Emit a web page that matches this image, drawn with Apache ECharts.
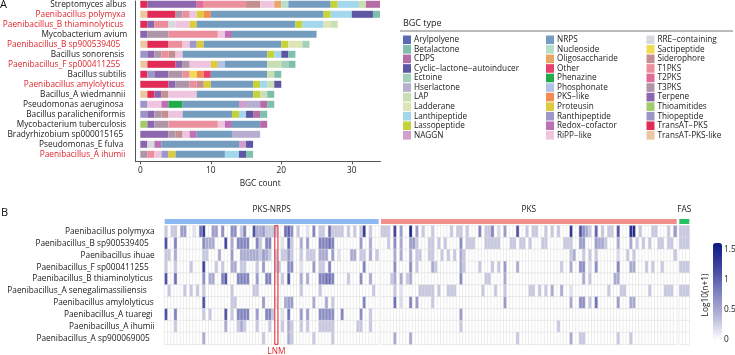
<!DOCTYPE html>
<html><head><meta charset="utf-8">
<style>html,body{margin:0;padding:0;background:#fff}#c{width:735px;height:355px}</style>
<script src="https://cdn.jsdelivr.net/npm/echarts@6/dist/echarts.min.js"></script></head>
<body><div id="c"></div>
<script>
// ---------- Panel A data ----------
const bgcTypes = ['TransAT-PKS-like','TransAT−PKS','Thiopeptide','Thioamitides','Terpene','T3PKS','T2PKS','T1PKS','Siderophore','Sactipeptide','RRE−containing','RiPP−like','Redox−cofactor','Ranthipeptide','Proteusin','PKS−like','Phosphonate','Phenazine','Other','Oligosaccharide','Nucleoside','NRPS','NAGGN','Lassopeptide','Lanthipeptide','Ladderane','LAP','Hserlactone','Ectoine','Cyclic−lactone−autoinducer','CDPS','Betalactone','Arylpolyene'];
const bgcColors = ['#ecc69e','#e12b56','#9a96c8','#a2cc6c','#8d67ad','#ae96a8','#df6d97','#ec8f9c','#c48f90','#f0dc52','#d8d9de','#eec4de','#bb71b3','#9d98cb','#dccb3c','#f28d50','#b3c1e6','#22ab4b','#e8416b','#e8a769','#b7dec8','#739cbf','#cf9fcf','#c4d339','#a3d8ec','#dde5b6','#c9dfb3','#b7aed0','#a3d0b9','#5d57a3','#b56da6','#7fbfae','#5b6bb0'];
const legendCol1 = ['Arylpolyene','Betalactone','CDPS','Cyclic−lactone−autoinducer','Ectoine','Hserlactone','LAP','Ladderane','Lanthipeptide','Lassopeptide','NAGGN'];
const legendCol2 = ['NRPS','Nucleoside','Oligosaccharide','Other','Phenazine','Phosphonate','PKS−like','Proteusin','Ranthipeptide','Redox−cofactor','RiPP−like'];
const legendCol3 = ['RRE−containing','Sactipeptide','Siderophore','T1PKS','T2PKS','T3PKS','Terpene','Thioamitides','Thiopeptide','TransAT−PKS','TransAT-PKS-like'];
const species = ['Streptomyces albus','Paenibacillus polymyxa','Paenibacillus_B thiaminolyticus','Mycobacterium avium','Paenibacillus_B sp900539405','Bacillus sonorensis','Paenibacillus_F sp000411255','Bacillus subtilis','Paenibacillus amylolyticus','Bacillus_A wiedmannii','Pseudomonas aeruginosa','Bacillus paralicheniformis','Mycobacterium tuberculosis','Bradyrhizobium sp000015165','Pseudomonas_E fulva','Paenibacillus_A ihumii'];
const redSpecies = ['Paenibacillus polymyxa','Paenibacillus_B thiaminolyticus','Paenibacillus_B sp900539405','Paenibacillus_F sp000411255','Paenibacillus amylolyticus','Paenibacillus_A ihumii'];
const labelRightPad = [1,2,4,0,7,3,7,1,3,2,4,2,1,4,4,2];
const sAlbus = [['TransAT−PKS',1],['Terpene',7],['T2PKS',1],['T1PKS',6],['Siderophore',2],['RiPP−like',2],['Oligosaccharide',1],['Nucleoside',1],['NRPS',6],['Lassopeptide',1],['Lanthipeptide',3],['LAP',1],['CDPS',2]];
const pPolymyxa = [['TransAT-PKS-like',1],['TransAT−PKS',4],['T3PKS',1],['T1PKS',1],['RiPP−like',1],['Proteusin',1],['PKS−like',1],['NRPS',16],['Lassopeptide',1],['Lanthipeptide',3],['Cyclic−lactone−autoinducer',3],['Betalactone',1]];
const pThiaminolyticus = [['TransAT−PKS',1],['Terpene',1],['T1PKS',2],['RRE−containing',1],['RiPP−like',2],['Proteusin',1],['NRPS',14],['Lassopeptide',1],['Lanthipeptide',3],['Ladderane',1],['LAP',1]];
const mAvium = [['Terpene',1],['T3PKS',3],['T1PKS',7],['RiPP−like',1],['Redox−cofactor',1],['NRPS',12]];
const pSp900539405 = [['TransAT-PKS-like',1],['TransAT−PKS',3],['T1PKS',2],['RiPP−like',1],['Ranthipeptide',1],['Proteusin',1],['NRPS',11],['Lassopeptide',1],['Ladderane',2],['Ectoine',1]];
const bSonorensis = [['Thiopeptide',1],['Terpene',1],['T3PKS',1],['T1PKS',1],['Siderophore',1],['RiPP−like',1],['NRPS',12],['Lassopeptide',1],['Lanthipeptide',1],['Cyclic−lactone−autoinducer',1],['Betalactone',1]];
const pSp000411255 = [['TransAT-PKS-like',1],['TransAT−PKS',4],['Terpene',1],['T3PKS',1],['RiPP−like',3],['Proteusin',1],['Phosphonate',1],['NRPS',6],['LAP',2],['Ectoine',1],['Betalactone',1]];
const bSubtilis = [['TransAT−PKS',1],['Thiopeptide',1],['Terpene',2],['T3PKS',2],['T1PKS',1],['Sactipeptide',1],['PKS−like',1],['Other',1],['NRPS',8],['LAP',1],['Betalactone',1]];
const pAmylolyticus = [['TransAT−PKS',4],['Terpene',1],['T3PKS',2],['T1PKS',1],['Siderophore',1],['Proteusin',1],['NRPS',6],['Lassopeptide',1],['Lanthipeptide',1],['LAP',1],['Cyclic−lactone−autoinducer',1]];
const bWiedmannii = [['TransAT-PKS-like',1],['TransAT−PKS',1],['Terpene',1],['Siderophore',1],['RiPP−like',4],['NRPS',8],['Lassopeptide',1],['LAP',1],['Betalactone',1]];
const pAeruginosa = [['Thiopeptide',1],['RiPP−like',2],['Redox−cofactor',1],['Phenazine',2],['NRPS',8],['NAGGN',1],['Hserlactone',2],['CDPS',1],['Betalactone',1]];
const bParalicheniformis = [['Thiopeptide',1],['Terpene',1],['T3PKS',1],['Siderophore',1],['RiPP−like',2],['NRPS',7],['Lassopeptide',1],['Lanthipeptide',1],['Cyclic−lactone−autoinducer',1],['CDPS',1],['Betalactone',1]];
const mTuberculosis = [['Thioamitides',1],['Terpene',1],['T3PKS',2],['T1PKS',7],['RiPP−like',1],['Redox−cofactor',1],['NRPS',4],['CDPS',1]];
const bradySp = [['Terpene',4],['T3PKS',1],['Siderophore',1],['RiPP−like',1],['Redox−cofactor',1],['NRPS',5],['Hserlactone',4]];
const pFulva = [['Terpene',1],['RRE−containing',1],['Redox−cofactor',1],['NRPS',11],['NAGGN',1],['Cyclic−lactone−autoinducer',1]];
const pIhumii = [['T3PKS',1],['T1PKS',1],['RiPP−like',1],['Ranthipeptide',1],['Proteusin',1],['NRPS',7],['Lanthipeptide',2],['Cyclic−lactone−autoinducer',1],['Betalactone',1]];
const speciesCounts = [sAlbus,pPolymyxa,pThiaminolyticus,mAvium,pSp900539405,bSonorensis,pSp000411255,bSubtilis,pAmylolyticus,bWiedmannii,pAeruginosa,bParalicheniformis,mTuberculosis,bradySp,pFulva,pIhumii];

// ---------- Panel B data: sparse [column, log10(n+1)] per genome ----------
const genomes = ['Paenibacillus polymyxa','Paenibacillus_B sp900539405','Paenibacillus ihuae','Paenibacillus_F sp000411255','Paenibacillus_B thiaminolyticus','Paenibacillus_A senegalimassiliensis','Paenibacillus amylolyticus','Paenibacillus_A tuaregi','Paenibacillus_A ihumii','Paenibacillus_A sp900069005'];
const genomePad = [0,6,0,6,2,8,1,2,0,5];
const nrpsColumns = 68, pksColumns = 94, fasColumns = 3;
const lnmColumn = 35;
const cellsPksNrps = [
 [[0,.3],[2,.3],[3,.3],[5,.6],[6,.6],[9,.15],[11,.9],[12,1.3],[15,.6],[16,.6],[18,.7],[21,.7],[22,.7],[24,.3],[25,.78],[28,1.1],[29,.48],[30,.48],[31,.6],[32,.3],[33,.3],[34,.3],[35,.3],[38,.9],[39,1],[40,.7],[42,.3],[45,.15],[47,.78],[49,.3],[50,.3],[52,.9],[53,.3],[54,.3],[55,.3],[56,.3],[58,.3],[60,.3],[62,.3],[63,1.3],[65,.3]],
 [[0,1.1],[3,.78],[12,.7],[13,.48],[14,.48],[15,.48],[19,1.2],[21,.48],[23,.78],[24,.78],[25,.78],[26,.78],[29,.78],[30,.3],[32,.78],[33,.78],[37,.15],[39,1],[40,.3],[43,.48],[45,.6],[49,.78],[50,.78],[51,.78],[52,.9],[53,.78],[62,.6],[65,.48]],
 [[0,.3],[1,.3],[3,.48],[12,.3],[13,.3],[17,.48],[21,.6],[24,.48],[25,.48],[26,.48],[27,.48],[28,.48],[29,.48],[30,.3],[31,.6],[32,.48],[33,.3],[35,.3],[37,.3],[38,.3],[39,.6],[40,.3],[43,.3],[45,.3],[46,.3],[47,.3],[49,.48],[50,.48],[51,.48],[53,.6],[55,.15],[59,.48],[60,.48],[62,.3],[63,.3],[65,.48],[67,.3]],
 [[0,.3],[3,.3],[8,.3],[12,1.2],[16,.3],[18,.3],[21,.48],[22,.48],[24,.3],[25,.3],[29,.3],[31,.6],[35,.3],[36,.3],[39,.7],[40,.7],[43,.15],[47,.6],[49,.3],[50,.3],[52,.78],[63,.78]],
 [[0,1.1],[3,.9],[12,.7],[14,.48],[15,.48],[18,.78],[19,1.1],[23,.78],[24,.78],[25,.78],[26,.78],[29,.6],[32,.78],[33,.78],[35,.15],[37,.3],[39,1.1],[43,.48],[45,.48],[49,.78],[50,.78],[51,.9],[52,.9],[53,.78],[58,.3],[62,.7],[65,.48]],
 [[1,.3],[6,.3],[8,.3],[10,.3],[12,.3],[21,.3],[28,.3],[29,.3],[43,.3],[49,.3],[66,.3]],
 [[12,1.1],[21,.3],[22,.3],[31,.6],[35,.15],[38,.48],[39,.6],[40,.6],[47,.48],[51,.48],[53,.3],[63,.78]],
 [[0,1.1],[3,.78],[12,.3],[14,.3],[19,1.1],[21,.3],[23,.78],[24,.78],[25,.78],[26,.78],[29,.6],[32,.78],[33,.78],[34,.3],[37,.15],[39,.9],[43,.6],[45,.6],[49,.7],[50,.7],[51,.7],[52,.7],[53,.7],[56,.78],[62,.7],[65,.3]],
 [[3,.3],[19,.48],[23,.3],[24,.48],[25,.3],[29,.3],[33,.3],[37,.3],[39,.48],[40,.3],[43,.3],[45,.3],[49,.3],[50,.3],[51,.3],[52,.3],[53,.3],[61,.3],[62,.3],[65,.3]],
 [[12,.48],[31,.3],[39,.48],[40,.3],[47,.3],[53,.3]]
];
const cellsPks = [
 [[0,.3],[1,.3],[2,.3],[4,1.2],[6,.6],[9,1.5],[11,.6],[13,.3],[16,.3],[22,.3],[24,.3],[25,.3],[27,.3],[31,.78],[33,.3],[34,.3],[35,.78],[37,.2],[39,.6],[43,1.1],[46,.3],[48,.3],[49,.3],[52,.3],[54,.3],[56,.3],[60,1.3],[63,1.1],[64,.7],[65,.48],[66,.3],[68,1],[70,.3],[72,.3],[73,.3],[75,1.1],[79,1.4],[80,1.4],[82,.3],[86,.3],[87,.3],[91,.3],[93,.6]],
 [[2,.3],[4,.7],[6,.48],[9,.6],[10,.6],[11,.3],[15,.3],[16,.3],[18,.3],[20,.3],[25,.7],[27,.3],[28,.3],[29,.3],[33,.3],[34,.3],[35,.3],[36,.3],[37,.3],[41,.3],[42,.3],[44,.3],[45,.3],[47,.3],[51,.3],[52,.3],[58,.3],[59,.3],[60,.3],[63,.6],[64,.6],[68,.6],[69,.48],[70,.48],[71,.3],[75,.48],[79,.48],[81,.3],[83,.3],[85,.3],[88,.3],[89,.3],[91,.3],[92,.3]],
 [[4,.48],[6,.48],[9,.48],[11,.3],[12,.3],[15,.3],[16,.3],[19,.3],[21,.3],[23,.3],[25,.48],[26,.3],[60,.3],[61,.48],[64,.3],[66,.3],[68,.3],[75,.2],[78,.3],[80,.3],[93,.3]],
 [[4,.7],[9,.7],[11,.3],[16,.48],[17,.3],[25,.48],[26,.3],[31,.3],[35,.3],[37,.3],[39,.6],[43,.48],[57,.3],[60,.48],[63,.7],[64,.7],[66,.2],[68,.7],[75,.78],[79,.48],[80,.48],[84,.3],[86,.3],[89,.3]],
 [[3,.3],[4,.48],[6,.48],[8,.3],[9,.48],[25,.7],[33,.3],[34,.3],[39,.48],[64,.48],[66,.3],[74,.48],[75,.48]],
 [[4,.3],[6,.15],[12,.3],[13,.3],[14,.3],[15,.3],[16,.3],[18,.3],[21,.3],[22,.3],[23,.3],[32,.3],[36,.3],[39,.3],[47,.3],[48,.3],[50,.3],[52,.3],[54,.48],[57,.48],[60,.15],[72,.3],[76,.3],[77,.3],[85,.3],[90,.3],[91,.3],[92,.3]],
 [[4,.9],[6,.2],[9,.78],[11,.6],[16,.3],[39,.6],[60,.48],[63,.7],[64,.7],[66,.3],[68,.9],[75,.6],[79,.48],[80,.48]],
 [[25,.6]],
 [[25,.3],[56,.3]],
 [[4,.48],[9,.48],[43,.3],[60,.48],[63,.3],[64,.3],[75,.3],[79,.3]]
];
const cellsFas = [
 [[0,.3],[1,.3],[2,.3]],
 [[0,.3],[1,.3],[2,.3]],
 [],
 [[0,.3],[1,.3],[2,.3]],
 [],
 [[0,.3],[1,.3],[2,.3]],
 [],[],[],[]
];
const groupNames = ['PKS-NRPS','PKS','FAS'];
const groupColors = ['#8db8f2','#f08f8c','#25c060'];
const colorStops = ['#ffffff','#b4b5d8','#7d80bf','#3f44a0','#0c1a82'];
const colorbarTicks = [0,0.5,1,1.5];

// ---------- Build ----------
const FONT = '"Open Sans"';
const TXT = '#1a1a1a';
const colW = 3.146;
const heatTop = 225.7, heatH = 118.6;
const g1 = 164.7, g2 = 381, g3 = 679.3;
const NB = {outerBoundsMode:'none'};

const barSeries = bgcTypes.map((t,i)=>({
  type:'bar', name:t, stack:'a', xAxisIndex:0, yAxisIndex:0, barWidth:7,
  itemStyle:{color:bgcColors[i]}, silent:true,
  data:speciesCounts.map(sc=>{const f=sc.find(e=>e[0]===t);return f?f[1]:0;})
}));
function cellsToData(cells,nCols){
  const out=[];
  cells.forEach((row,r)=>{const m={};row.forEach(c=>m[c[0]]=c[1]);
    for(let c=0;c<nCols;c++)out.push([c,r,m[c]||0]);});
  return out;
}
const hmStyle = {borderColor:'#dcdcdc',borderWidth:0.5};
const hm = (ax,cells,n)=>({type:'heatmap',xAxisIndex:ax,yAxisIndex:ax,data:cellsToData(cells,n),itemStyle:hmStyle,silent:true,progressive:0,emphasis:{disabled:true}});
const idx = n=>Array.from({length:n},(_,i)=>i);
const heatX = (gi,n,name)=>({gridIndex:gi,type:'category',position:'top',data:idx(n),offset:4,
  axisTick:{show:false},axisLabel:{show:false},splitLine:{show:false},
  axisLine:{show:true,lineStyle:{color:groupColors[gi-2],width:5,cap:'butt'}},
  name:name,nameLocation:'middle',nameGap:8.5,nameTextStyle:{fontFamily:FONT,fontSize:8.3,color:TXT}});
const heatY = (gi,show)=>({gridIndex:gi,type:'category',inverse:true,
  data:genomes.map((g,i)=>({value:g,textStyle:{padding:[0,genomePad[i],0,0]}})),
  axisLine:{show:false},axisTick:{show:false},splitLine:{show:false},
  axisLabel:{show:show,interval:0,margin:10,fontFamily:FONT,fontSize:8.3,color:TXT}});
const legend = (names,left)=>({show:true,data:names,orient:'vertical',left:left,top:35.5,itemWidth:8,itemHeight:8.6,itemGap:0.95,icon:'rect',selectedMode:false,padding:0,
  textStyle:{fontFamily:FONT,fontSize:8.2,color:TXT,lineHeight:8.6,padding:[0,0,0,-2]}});

const option = {
  animation:false,
  backgroundColor:'#fff',
  textStyle:{fontFamily:FONT},
  title:[
    {text:'A',left:0,top:-1,padding:0,textStyle:{fontFamily:FONT,fontSize:11,fontWeight:'normal',color:'#111'}},
    {text:'B',left:1,top:207,padding:0,textStyle:{fontFamily:FONT,fontSize:11,fontWeight:'normal',color:'#111'}},
    {text:'BGC type',left:403,top:18.5,padding:0,textStyle:{fontFamily:FONT,fontSize:9,fontWeight:'normal',color:TXT}}
  ],
  legend:[legend(legendCol1,403),legend(legendCol2,546),legend(legendCol3,646.5)],
  grid:[
    {left:140.3,top:-0.7,width:239.7,height:160,...NB},
    {left:135.5,top:1,width:245,height:160.7,...NB},
    {left:g1,top:heatTop,width:nrpsColumns*colW,height:heatH,...NB},
    {left:g2,top:heatTop,width:pksColumns*colW,height:heatH,...NB},
    {left:g3,top:heatTop,width:10,height:heatH,...NB},
    {left:g1+lnmColumn*colW,top:heatTop,width:colW,height:heatH,show:true,borderColor:'#e0252b',borderWidth:1,backgroundColor:'transparent',z:10,...NB},
    {left:720,top:250,width:1,height:90,...NB}
  ],
  xAxis:[
    {gridIndex:0,type:'value',min:0,max:34,interval:10,offset:2,splitLine:{show:false},axisLine:{show:false},
     axisTick:{show:true,length:3,lineStyle:{color:'#555'}},
     axisLabel:{fontFamily:FONT,fontSize:8.3,color:TXT,margin:5.5,showMaxLabel:false},
     name:'BGC count',nameLocation:'middle',nameGap:18,nameTextStyle:{fontFamily:FONT,fontSize:8.3,color:TXT}},
    {gridIndex:1,type:'value',min:0,max:1,axisTick:{show:false},axisLabel:{show:false},splitLine:{show:false},
     axisLine:{show:true,lineStyle:{color:'#555',width:1}}},
    heatX(2,nrpsColumns,groupNames[0]),
    heatX(3,pksColumns,groupNames[1]),
    heatX(4,fasColumns,groupNames[2]),
    {gridIndex:5,type:'category',data:['LNM'],position:'bottom',axisLine:{show:false},axisTick:{show:false},
     axisLabel:{show:true,interval:0,margin:3,fontFamily:FONT,fontSize:8.3,color:'#e0252b'}},
    {gridIndex:6,type:'value',show:false}
  ],
  yAxis:[
    {gridIndex:0,type:'category',inverse:true,
     data:species.map((s,i)=>({value:s,textStyle:{color:redSpecies.includes(s)?'#e0252b':TXT,padding:[0,labelRightPad[i],0,0]}})),
     axisLine:{show:false},axisTick:{show:false},
     axisLabel:{interval:0,margin:13,fontFamily:FONT,fontSize:8.3}},
    {gridIndex:1,type:'value',min:0,max:1,axisTick:{show:false},axisLabel:{show:false},splitLine:{show:false},
     axisLine:{show:true,lineStyle:{color:'#555',width:1}}},
    heatY(2,true),heatY(3,false),heatY(4,false),
    {gridIndex:5,type:'value',show:false},
    {gridIndex:6,type:'value',min:0,max:1.5,interval:0.5,position:'right',axisLine:{show:false},axisTick:{show:false},splitLine:{show:false},
     axisLabel:{margin:3,fontFamily:FONT,fontSize:8.3,color:TXT,formatter:v=>colorbarTicks.includes(v)?String(v):''},
     name:'Log10(n+1)',nameLocation:'middle',nameRotate:90,nameGap:-19,nameTextStyle:{fontFamily:FONT,fontSize:8.3,color:TXT}}
  ],
  visualMap:{type:'continuous',min:0,max:1.6,seriesIndex:[bgcTypes.length,bgcTypes.length+1,bgcTypes.length+2],
    inRange:{color:colorStops},left:713,top:243,itemWidth:9,itemHeight:97,calculable:false,showLabel:false,text:null,hoverLink:false,padding:0},
  series:[...barSeries,hm(2,cellsPksNrps,nrpsColumns),hm(3,cellsPks,pksColumns),hm(4,cellsFas,fasColumns)],
  graphic:[{type:'line',silent:true,shape:{x1:400,y1:31,x2:733,y2:31},style:{stroke:'#555',lineWidth:0.8}}]
};
const chart = echarts.init(document.getElementById('c'),null,{renderer:'canvas'});
chart.setOption(option);
</script></body></html>
